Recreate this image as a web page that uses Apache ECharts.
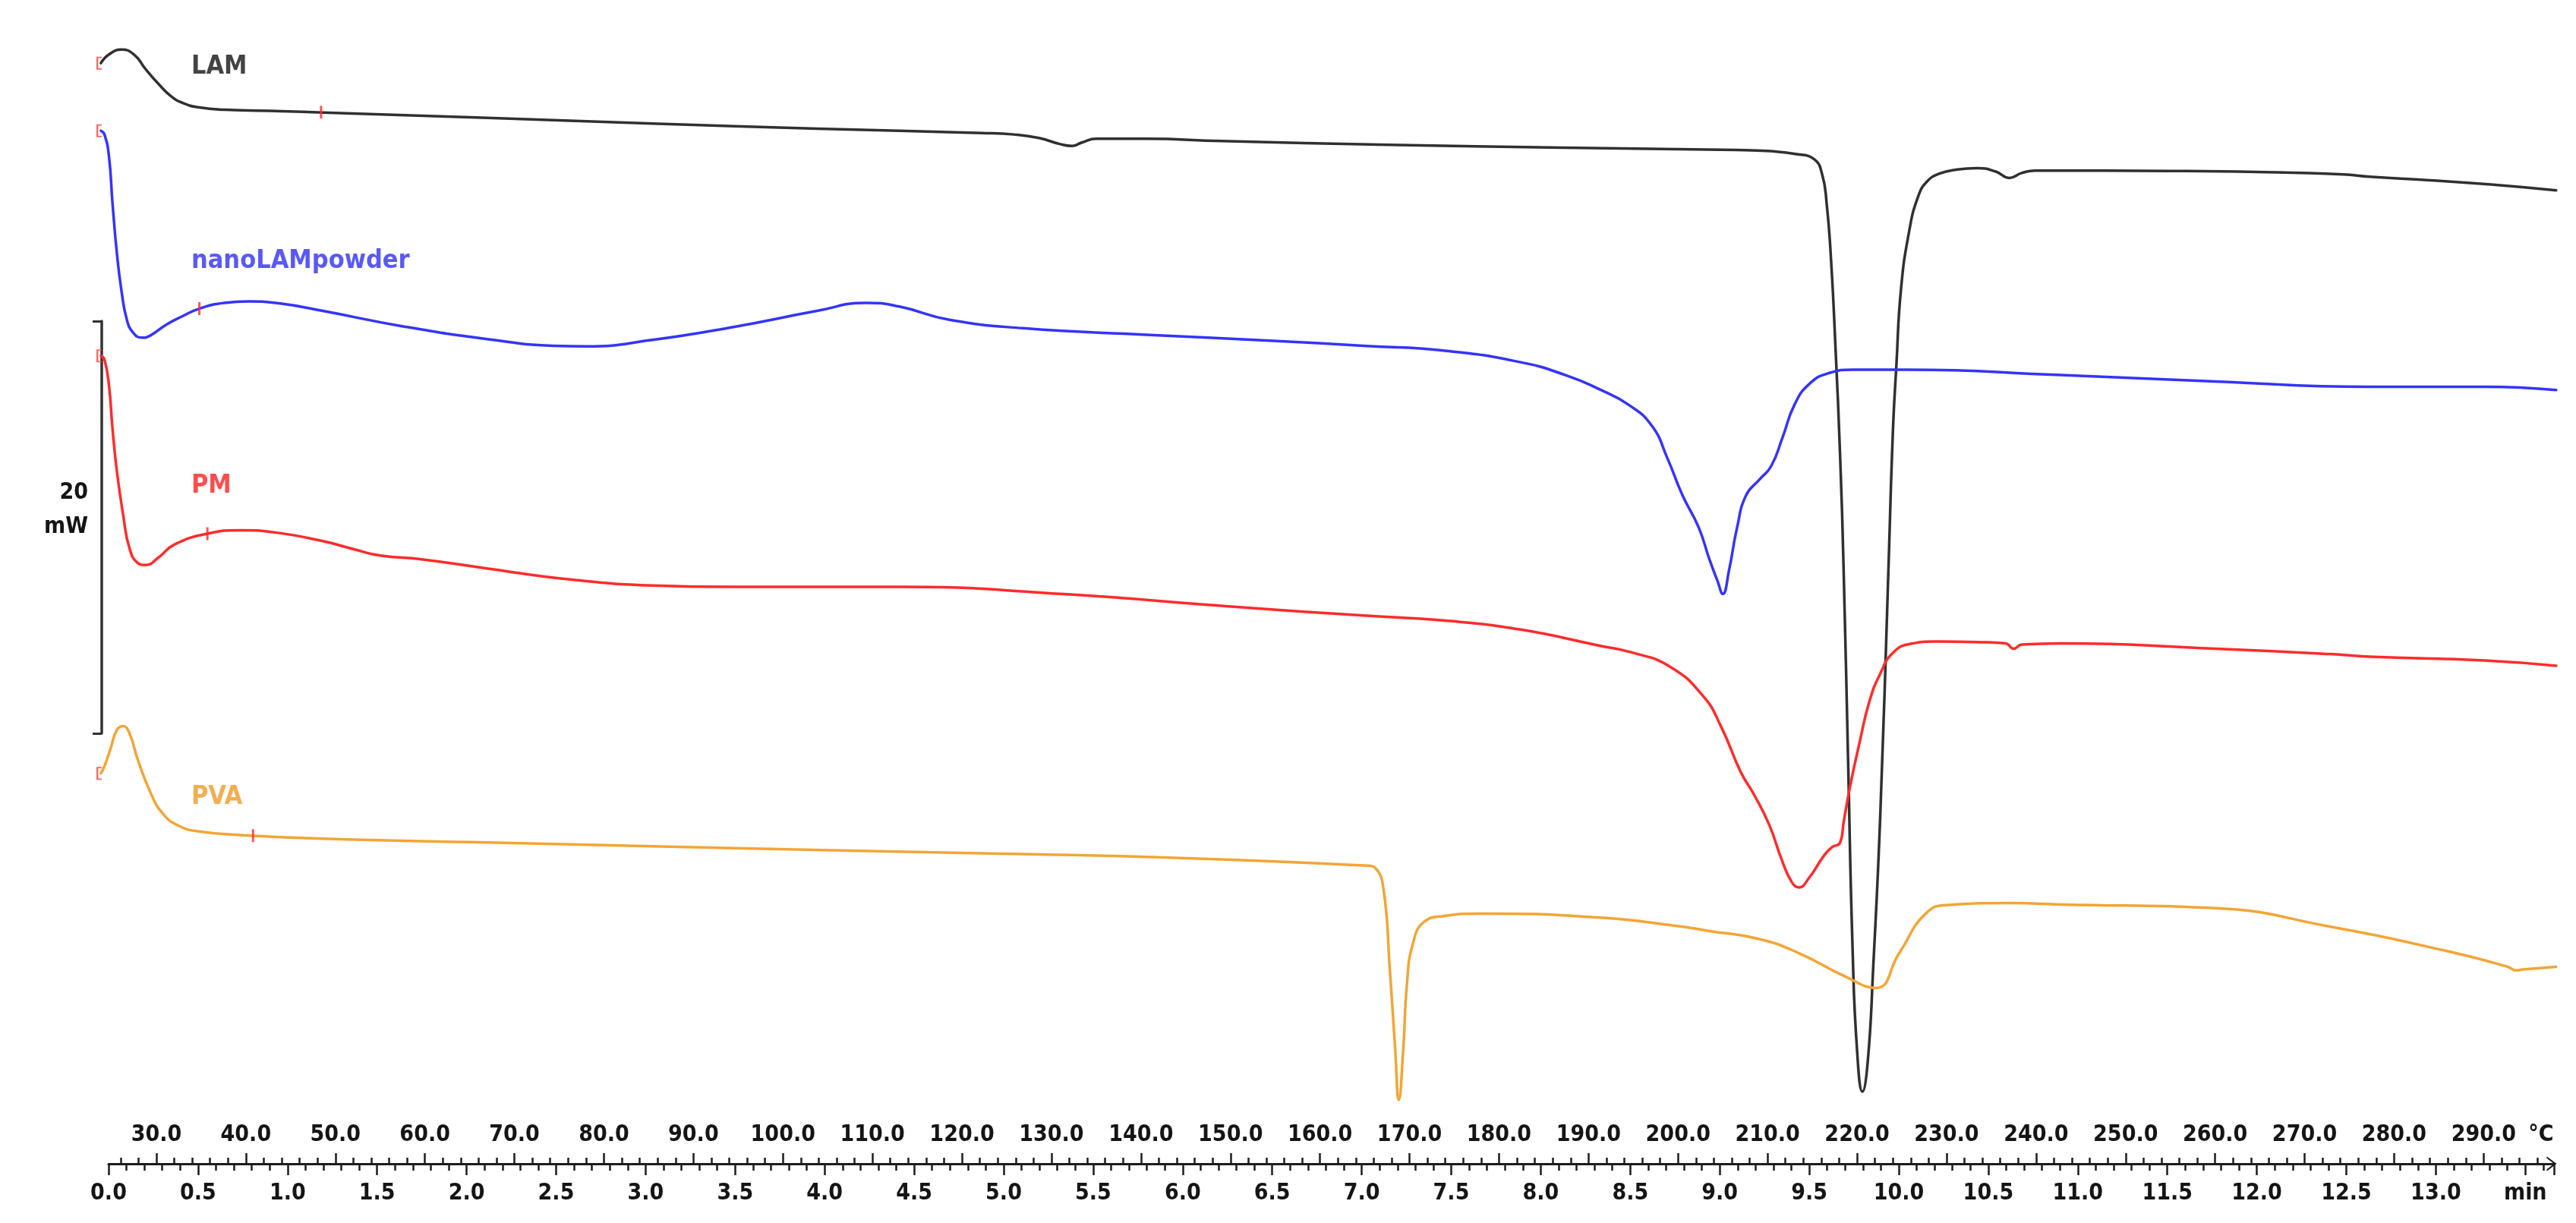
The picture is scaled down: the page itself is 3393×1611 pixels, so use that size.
<!DOCTYPE html>
<html>
<head>
<meta charset="utf-8">
<script src="https://cdn.jsdelivr.net/npm/echarts@6/dist/echarts.min.js"></script>
<style>
html,body{margin:0;padding:0;background:#ffffff;}
#chart{width:3393px;height:1611px;}
</style>
</head>
<body>
<div id="chart"></div>
<script>
// ---------------- DATA (temperature °C, heat flow mW) ----------------
const lamCurve = [
  [23.8,53.40],[24.7,53.82],[26.1,54.06],[27.5,53.82],[28.8,53.11],[30.2,52.41],[31.6,51.81],[33.0,51.46],
  [34.8,51.25],[37.6,51.14],[44.0,51.07],[48.6,51.00],[67.0,50.75],[85.4,50.47],[103.8,50.22],[122.2,50.01],
  [125.8,49.94],[128.6,49.77],[130.9,49.48],[132.3,49.38],[133.4,49.55],[135.0,49.73],[140.6,49.73],[149.0,49.62],
  [167.6,49.44],[187.0,49.30],[206.4,49.19],[210.3,49.13],[213.2,48.99],[215.2,48.74],[216.1,48.00],[216.6,46.60],
  [217.1,43.80],[217.6,39.50],[218.1,34.40],[218.5,28.80],[219.0,19.50],[219.5,10.40],[220.0,5.50],[220.6,3.50],
  [221.2,5.00],[221.8,9.50],[222.6,17.00],[223.5,28.80],[224.0,35.50],[224.4,38.80],[224.9,42.40],[225.8,45.20],
  [226.8,46.90],[227.8,47.65],[229.2,48.04],[231.2,48.24],[233.4,48.31],[235.5,48.14],[237.0,47.83],[238.4,48.07],
  [239.9,48.19],[254.9,48.17],[264.6,48.12],[274.3,48.00],[277.2,47.89],[284.0,47.72],[290.8,47.51],[298.1,47.23]
];
const nanoCurve = [
  [23.8,50.12],[24.2,49.94],[24.7,48.89],[25.1,46.60],[25.6,44.13],[26.1,42.37],[26.7,40.96],[27.4,40.33],
  [28.4,40.08],[29.3,40.18],[31.1,40.71],[33.0,41.14],[34.8,41.49],[37.6,41.77],[40.3,41.84],[44.0,41.73],
  [48.6,41.38],[57.8,40.61],[67.0,40.01],[74.3,39.69],[78.0,39.66],[85.4,39.97],[94.6,40.61],[103.8,41.38],
  [109.3,41.77],[113.0,41.59],[118.5,40.96],[126.8,40.54],[140.6,40.22],[154.4,39.94],[165.2,39.68],[173.8,39.46],
  [182.4,38.89],[187.6,38.24],[191.1,37.60],[194.5,36.82],[197.1,35.79],[198.8,34.24],[200.5,32.43],[202.3,30.88],
  [203.5,29.33],[204.4,28.29],[205.0,27.65],[205.7,28.81],[206.6,30.88],[207.6,32.43],[209.1,33.20],[210.4,33.85],
  [211.7,35.27],[213.0,36.82],[214.7,37.85],[216.9,38.37],[219.5,38.53],[225.5,38.53],[242.8,38.27],[260.0,37.96],
  [277.2,37.70],[290.1,37.70],[298.1,37.54]
];
const pmCurve = [
  [23.8,39.20],[24.2,39.02],[24.7,37.79],[25.1,35.67],[25.6,33.56],[26.3,31.45],[27.0,29.86],[27.9,29.16],
  [28.8,29.05],[30.2,29.40],[32.0,30.04],[35.7,30.57],[39.4,30.74],[43.1,30.64],[48.6,30.21],[52.3,29.79],
  [55.0,29.51],[59.6,29.33],[67.0,28.88],[76.2,28.35],[85.4,28.06],[94.6,27.99],[113.0,27.99],[131.4,27.64],
  [149.8,27.04],[165.2,26.59],[173.8,26.36],[182.4,25.92],[191.1,25.15],[194.9,24.80],[199.1,24.12],[202.8,22.69],
  [204.8,21.22],[207.0,19.01],[208.5,17.90],[210.2,16.43],[211.6,14.73],[212.7,13.67],[213.5,13.41],[214.6,13.85],
  [216.3,14.95],[217.2,15.36],[218.1,15.58],[218.5,16.57],[219.2,18.27],[220.3,20.48],[221.4,22.47],[222.6,23.79],
  [224.0,24.79],[226.0,25.23],[228.8,25.34],[234.5,25.30],[236.6,25.25],[237.5,24.99],[238.4,25.19],[242.8,25.25],
  [260.0,24.99],[272.9,24.73],[277.2,24.60],[290.1,24.42],[298.1,24.16]
];
const pvaCurve = [
  [23.8,18.94],[24.2,19.29],[24.9,20.17],[25.6,21.05],[26.3,21.23],[27.0,20.88],[27.9,19.64],[29.3,18.06],
  [30.7,17.00],[32.5,16.40],[34.8,16.12],[39.4,15.95],[48.6,15.77],[67.0,15.59],[94.6,15.31],[122.2,15.06],
  [140.6,14.89],[165.2,14.47],[166.2,14.34],[167.1,13.31],[167.8,9.43],[168.4,5.55],[168.8,3.10],[169.3,5.55],
  [169.7,8.65],[170.4,10.72],[171.7,11.76],[173.8,12.02],[178.1,12.14],[191.1,11.95],[199.7,11.55],[203.4,11.30],
  [209.1,10.90],[213.6,10.20],[218.6,9.10],[222.1,8.53],[224.7,10.21],[227.7,12.15],[230.3,12.56],[237.3,12.65],
  [242.8,12.58],[260.0,12.40],[272.9,11.50],[285.8,10.33],[292.7,9.56],[293.6,9.38],[294.4,9.43],[298.1,9.56]
];
const seriesNames = ['LAM', 'nanoLAMpowder', 'PM', 'PVA'];
// curve start markers and evaluation-limit markers (°C, mW)
const startMarks = [[23.6,53.40],[23.6,50.12],[23.6,39.20],[23.6,18.94]];
const limitMarks = [[48.4,51.02],[34.8,41.49],[35.7,30.57],[40.8,15.92]];
// name label anchors (°C, mW)
const nameAnchors = [[33.9,53.2],[33.9,43.8],[33.9,32.9],[33.9,17.8]];
// axis settings
const timeTickStep = 0.5;           // min
const timeUnitAt = 13.5;            // the last time tick carries the unit
const tempTickStep = 10;            // °C
const tempMinorStep = 2;            // °C
const scaleBarValue = 20;           // mW

// ---------------- LAYOUT ----------------
const W = 3393, H = 1611;
const X_T0 = 143, PX_PER_MIN = 235.8, AXIS_Y = 1533, PX_PER_MW = 27.15;
const T_AT_ZERO = 24.66, RATE = 20;       // °C at 0 min, heating rate °C/min
const TEMP_MIN = 23.5, TEMP_MAX = 298.2, TIME_MAX = 13.66;
const pxOfTemp = T => X_T0 + (T - T_AT_ZERO) / RATE * PX_PER_MIN;
const pxOfTime = t => X_T0 + t * PX_PER_MIN;
const span = (l, r) => ({left: l, right: W - r, top: 0, bottom: H - AXIS_Y, containLabel: false, outerBoundsMode: 'none'});

const colors = ['#303030', '#3434fa', '#ff2b2b', '#f3a535'];
const labelColors = ['#141414', '#2f2ff5', '#ff1f1f', '#f09a25'];
const FONT = '"DejaVu Sans Condensed", "DejaVu Sans", sans-serif';
const ink = '#1c1c1c';
const tickText = {fontSize: 30, fontWeight: 'bold', color: '#151515', fontFamily: FONT};

const hiddenY = gi => ({gridIndex: gi, type: 'value', show: false, min: 0, max: 1});

const option = {
  animation: false,
  backgroundColor: '#ffffff',
  textStyle: {fontFamily: FONT},
  grid: [
    span(pxOfTemp(TEMP_MIN), pxOfTemp(TEMP_MAX)),
    span(pxOfTime(0), pxOfTime(TIME_MAX)),
    span(pxOfTemp(30), pxOfTemp(290)),
    span(pxOfTemp(26), pxOfTemp(296)),
    {left: 134, width: 20, top: 423, height: scaleBarValue * PX_PER_MW, containLabel: false, outerBoundsMode: 'none'}
  ],
  xAxis: [
    {gridIndex: 0, type: 'value', min: TEMP_MIN, max: TEMP_MAX, show: false},
    {
      gridIndex: 1, type: 'value', min: 0, max: TIME_MAX, interval: timeTickStep,
      axisLine: {show: true, onZero: false, lineStyle: {color: ink, width: 3},
        symbol: ['none', 'path://M0,12 L9,0 L18,12 L15.6,12 L9,3.2 L2.4,12 Z'], symbolSize: [20, 13], symbolOffset: [0, -3]},
      axisTick: {show: true, inside: false, length: 15, lineStyle: {color: ink, width: 2.5}},
      minorTick: {show: true, splitNumber: 5, length: 9, lineStyle: {color: ink, width: 2.5}},
      splitLine: {show: false}, minorSplitLine: {show: false},
      axisLabel: Object.assign({show: true, margin: 24, showMaxLabel: false,
        formatter: v => Math.abs(v - timeUnitAt) < 1e-6 ? 'min' : v.toFixed(1)}, tickText)
    },
    {
      gridIndex: 2, type: 'value', min: 30, max: 290, interval: tempTickStep,
      axisLine: {show: false, onZero: false},
      axisTick: {show: true, inside: true, length: 14, lineStyle: {color: ink, width: 2.5}},
      splitLine: {show: false},
      axisLabel: Object.assign({show: true, inside: true, margin: 23, formatter: v => v.toFixed(1)}, tickText),
      name: '°C', nameLocation: 'end', nameGap: 59,
      nameTextStyle: Object.assign({align: 'left', verticalAlign: 'bottom', padding: [0, 0, 23, 0]}, tickText)
    },
    {
      gridIndex: 3, type: 'value', min: 26, max: 296, interval: tempMinorStep,
      axisLine: {show: false, onZero: false},
      axisTick: {show: true, inside: true, length: 8, lineStyle: {color: ink, width: 2.5}},
      splitLine: {show: false},
      axisLabel: {show: false}
    },
    {gridIndex: 4, type: 'value', show: false, min: 0, max: 1}
  ],
  yAxis: [
    {gridIndex: 0, type: 'value', show: false, min: 0, max: AXIS_Y / PX_PER_MW},
    hiddenY(1), hiddenY(2), hiddenY(3),
    {
      gridIndex: 4, type: 'value', position: 'left', min: 0, max: scaleBarValue, interval: scaleBarValue,
      axisLine: {show: true, lineStyle: {color: '#333', width: 3.5}},
      axisTick: {show: true, inside: false, length: 12, lineStyle: {color: '#333', width: 3}},
      splitLine: {show: false},
      axisLabel: {show: false},
      name: scaleBarValue + '\nmW\n ', nameLocation: 'middle', nameGap: 18, nameRotate: 0,
      nameTextStyle: {fontSize: 30, fontWeight: 'bold', color: '#151515', fontFamily: FONT, align: 'right', verticalAlign: 'middle', lineHeight: 45}
    }
  ],
  series: [
    ...[lamCurve, nanoCurve, pmCurve, pvaCurve].map((d, i) => ({
      name: seriesNames[i], type: 'line', xAxisIndex: 0, yAxisIndex: 0, data: d,
      showSymbol: false, smooth: 0.5, clip: false,
      lineStyle: {color: colors[i], width: 3.5, join: 'round', cap: 'round'}, z: 3
    })),
    {
      type: 'scatter', xAxisIndex: 0, yAxisIndex: 0, data: startMarks, clip: false,
      symbol: 'path://M6,0 L0,0 L0,20 L6,20 L6,18 L2,18 L2,2 L6,2 Z', symbolSize: [7, 17], symbolKeepAspect: false,
      itemStyle: {color: '#ff4040'}, z: 4
    },
    {
      type: 'scatter', xAxisIndex: 0, yAxisIndex: 0, data: limitMarks, clip: false,
      symbol: 'rect', symbolSize: [3, 17], itemStyle: {color: '#ff2a2a'}, z: 4
    },
    {
      type: 'scatter', xAxisIndex: 0, yAxisIndex: 0, symbolSize: 0, clip: false, z: 5,
      data: nameAnchors.map((p, i) => ({
        value: p, name: seriesNames[i],
        label: {show: true, position: [0, 0], align: 'left', verticalAlign: 'middle', formatter: seriesNames[i],
          fontSize: 34, fontWeight: 'bold', color: labelColors[i], fontFamily: FONT}
      }))
    }
  ]
};

const chart = echarts.init(document.getElementById('chart'), null, {renderer: 'canvas', width: W, height: H});
chart.setOption(option);
</script>
</body>
</html>
